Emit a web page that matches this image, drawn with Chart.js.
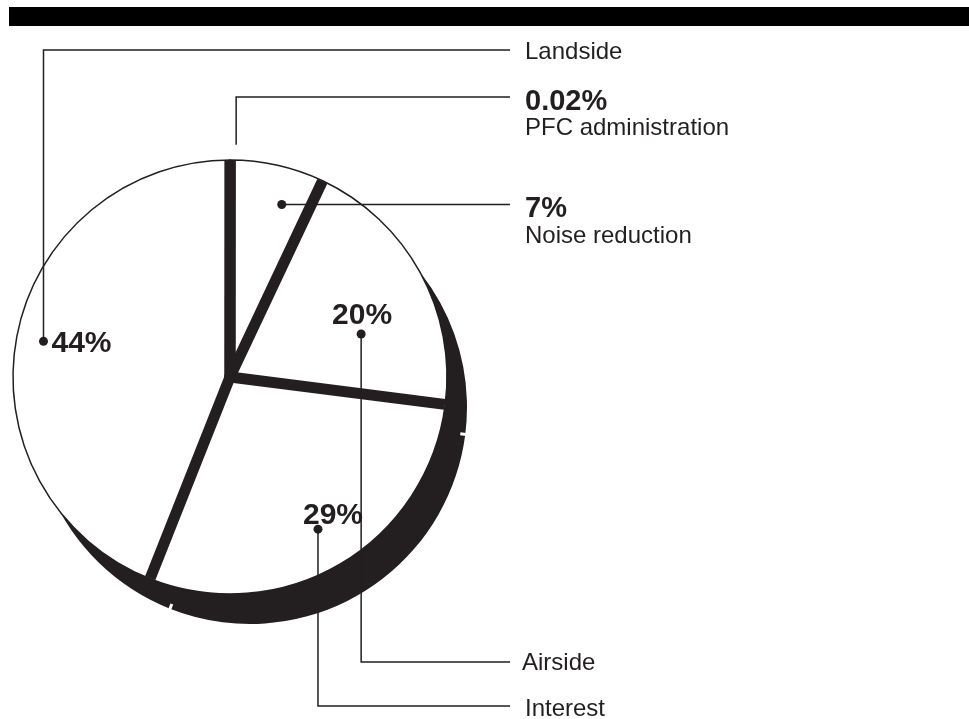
<!DOCTYPE html>
<html>
<head>
<meta charset="utf-8">
<script src="https://cdn.jsdelivr.net/npm/chart.js@4/dist/chart.umd.min.js"></script>
<style>
  html, body { margin: 0; padding: 0; background: #fff; }
  #c { display: block; width: 969px; height: 719px; }
</style>
</head>
<body>
<canvas id="c" width="969" height="719"></canvas>
<script>
// Spending shares by project category (percent), clockwise from 12 o'clock
const categories = ['PFC administration', 'Noise reduction', 'Airside', 'Interest', 'Landside'];
const shares = [0.02, 7, 20, 29, 44];
const shareLabels = ['0.02%', '7%', '20%', '29%', '44%'];

const INK = '#231f20';
const FONT = '"Liberation Sans", Arial, Helvetica, sans-serif';

// Where each pointer sits inside its slice and where its caption goes
const callouts = [
  { frac: 0.5, rf: 1.07, dot: false, nudgeX: 6, route: 'up',    lineY: 97,  bold: shareLabels[0], boldY: 110, name: categories[0], nameY: 135, nameX: 525 },
  { frac: 0.66, rf: 0.83, dot: true, route: 'flat',  lineY: null, bold: shareLabels[1], boldY: 217, name: categories[1], nameY: 243, nameX: 525 },
  { frac: 0.647, rf: 0.636, dot: true, route: 'down', lineY: 662, inner: shareLabels[2], innerDx: 1, innerDy: -10, innerAlign: 'center', name: categories[2], nameY: 670, nameX: 522 },
  { frac: 0.505, rf: 0.81, dot: true, route: 'down', lineY: 706, inner: shareLabels[3], innerDx: 15, innerDy: -5, innerAlign: 'center', name: categories[3], nameY: 716, nameX: 525 },
  { frac: 0.5, rf: 0.875, dot: true, route: 'up',   lineY: 50,  inner: shareLabels[4], innerDx: 8, innerDy: 11, innerAlign: 'left', name: categories[4], nameY: 59, nameX: 525 }
];

const SHADOW_DX = 20, SHADOW_DY = 30;
const LEADER_END = 510;

function arcProps(el) {
  return el.getProps(['x', 'y', 'startAngle', 'endAngle', 'outerRadius'], true);
}

const printPlugin = {
  id: 'print',
  beforeDraw(chart) {
    const ctx = chart.ctx;
    ctx.save();
    ctx.fillStyle = '#000';
    ctx.fillRect(9, 7, chart.width - 9, 19);
    ctx.restore();
  },
  beforeDatasetsDraw(chart) {
    // solid drop shadow under the pie: all wedges filled as one path
    const ctx = chart.ctx;
    const arcs = chart.getDatasetMeta(0).data;
    ctx.save();
    ctx.translate(SHADOW_DX, SHADOW_DY);
    ctx.fillStyle = INK;
    ctx.beginPath();
    arcs.forEach(el => {
      const p = arcProps(el);
      ctx.moveTo(p.x, p.y);
      ctx.arc(p.x, p.y, p.outerRadius, p.startAngle, p.endAngle);
      ctx.closePath();
    });
    ctx.fill();
    // small nicks in the shadow rim at slice boundaries
    ctx.strokeStyle = '#fff';
    ctx.lineWidth = 3;
    arcs.forEach(el => {
      const p = arcProps(el);
      const a = p.startAngle;
      ctx.beginPath();
      ctx.moveTo(p.x + Math.cos(a) * (p.outerRadius - 5), p.y + Math.sin(a) * (p.outerRadius - 5));
      ctx.lineTo(p.x + Math.cos(a) * (p.outerRadius + 3), p.y + Math.sin(a) * (p.outerRadius + 3));
      ctx.stroke();
    });
    ctx.restore();
  },
  afterDatasetsDraw(chart) {
    const ctx = chart.ctx;
    const arcs = chart.getDatasetMeta(0).data;
    ctx.save();
    // thick dividers between slices
    ctx.strokeStyle = INK;
    ctx.lineWidth = 11;
    ctx.lineCap = 'butt';
    arcs.forEach(el => {
      const p = arcProps(el);
      const a = p.startAngle;
      ctx.beginPath();
      ctx.moveTo(p.x, p.y);
      ctx.lineTo(p.x + Math.cos(a) * (p.outerRadius - 0.5), p.y + Math.sin(a) * (p.outerRadius - 0.5));
      ctx.stroke();
    });
    ctx.beginPath();
    const p0 = arcProps(arcs[0]);
    ctx.fillStyle = INK;
    ctx.arc(p0.x, p0.y, 6, 0, Math.PI * 2);
    ctx.fill();

    // pointers, leader lines and captions
    ctx.lineWidth = 1.5;
    ctx.strokeStyle = INK;
    ctx.fillStyle = INK;
    ctx.textBaseline = 'alphabetic';
    arcs.forEach((el, i) => {
      const c = callouts[i];
      const p = arcProps(el);
      const a = p.startAngle + c.frac * (p.endAngle - p.startAngle);
      const ax = p.x + Math.cos(a) * p.outerRadius * c.rf + (c.nudgeX || 0);
      const ay = p.y + Math.sin(a) * p.outerRadius * c.rf;
      if (c.dot) {
        ctx.beginPath();
        ctx.arc(ax, ay, 4.5, 0, Math.PI * 2);
        ctx.fill();
      }
      const ly = c.route === 'flat' ? ay : c.lineY;
      ctx.beginPath();
      ctx.moveTo(ax, ay);
      if (c.route !== 'flat') ctx.lineTo(ax, ly);
      ctx.lineTo(LEADER_END, ly);
      ctx.stroke();

      if (c.inner) {
        ctx.font = 'bold 30px ' + FONT;
        ctx.textAlign = c.innerAlign;
        ctx.fillText(c.inner, ax + c.innerDx, ay + c.innerDy);
      }
      ctx.textAlign = 'left';
      if (c.bold) {
        ctx.font = 'bold 29px ' + FONT;
        ctx.fillText(c.bold, 525, c.boldY);
      }
      ctx.font = '24px ' + FONT;
      ctx.fillText(c.name, c.nameX, c.nameY);
    });
    ctx.restore();
  }
};

new Chart(document.getElementById('c'), {
  type: 'pie',
  data: {
    labels: categories,
    datasets: [{
      data: shares,
      backgroundColor: '#ffffff',
      borderColor: INK,
      borderWidth: 1.5,
      hoverOffset: 0
    }]
  },
  options: {
    responsive: false,
    animation: false,
    radius: 217,
    layout: { padding: { left: 0, right: 509, top: 150, bottom: 115 } },
    plugins: { legend: { display: false }, tooltip: { enabled: false } },
    events: []
  },
  plugins: [printPlugin]
});
</script>
</body>
</html>
